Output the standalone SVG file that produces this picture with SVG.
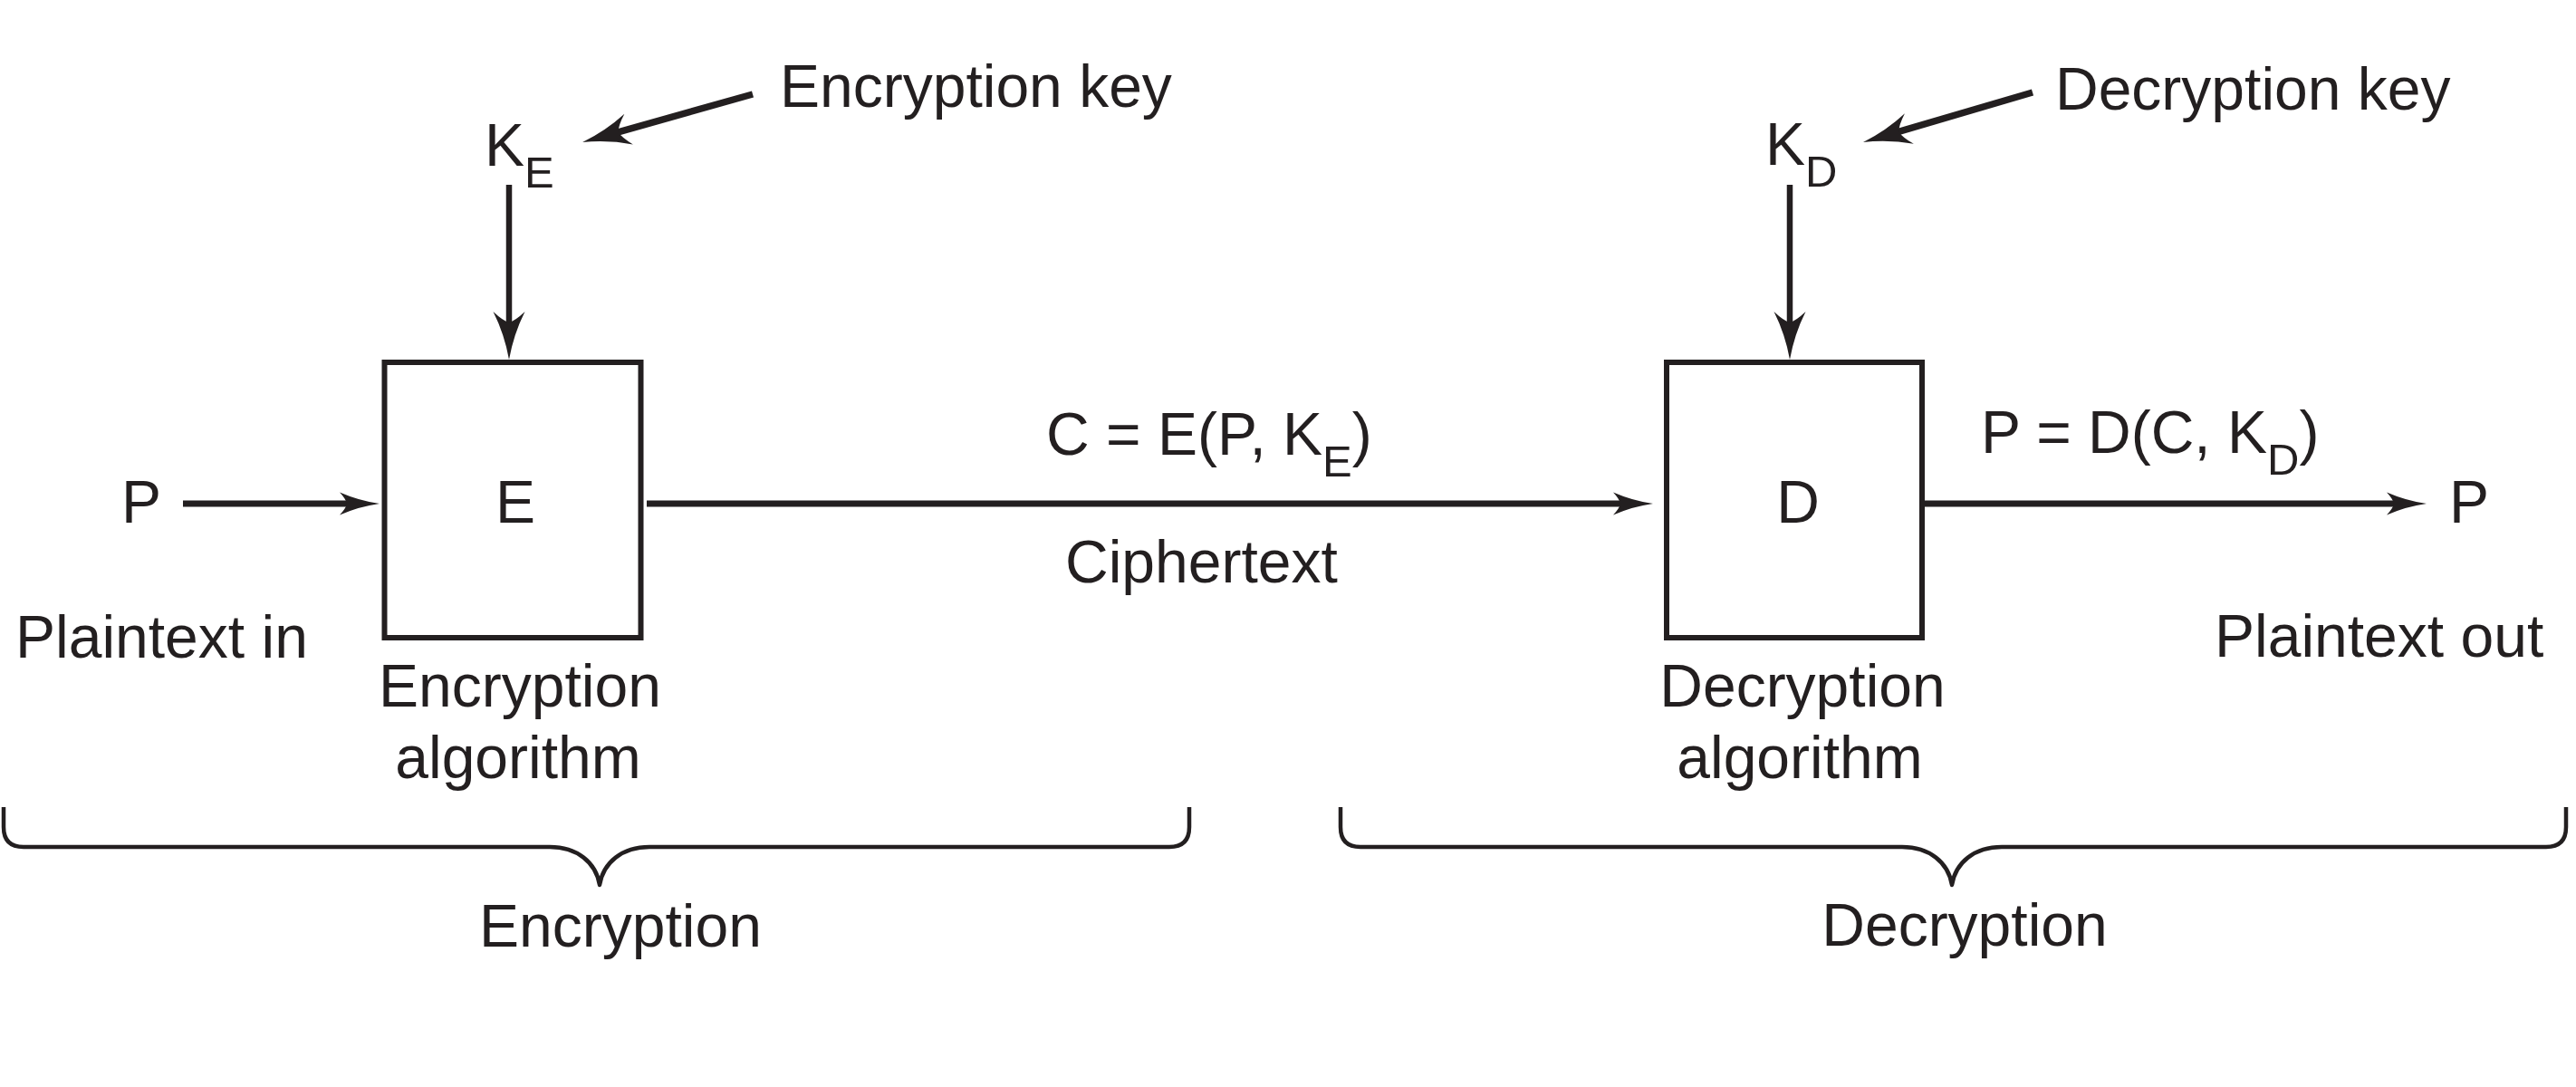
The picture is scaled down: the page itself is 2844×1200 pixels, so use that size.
<svg xmlns="http://www.w3.org/2000/svg" width="2844" height="1200" viewBox="0 0 2844 1200">
<style>
  text { font-family: "Liberation Sans", Arial, Helvetica, sans-serif; font-size: 66px; fill: #231f20; }
  .sub { font-size: 49px; }
  .mid { text-anchor: middle; }
  .box { fill: none; stroke: #231f20; stroke-width: 6; }
  .conn { fill: none; stroke: #231f20; stroke-linecap: butt; }
  .h { stroke-width: 7; }
  .v { stroke-width: 6.5; }
  .d { stroke-width: 7.5; }
  .brace { fill: none; stroke: #231f20; stroke-width: 4.5; stroke-linejoin: round; }
</style>
<defs>
  <marker id="bigHead" markerUnits="userSpaceOnUse" viewBox="-56 -20 100 40" refX="-40" refY="0" markerWidth="100" markerHeight="40" orient="auto" overflow="visible">
    <path d="M0,0 Q-28,-5 -53,-17.5 Q-43,-7 -41,0 Q-43,7 -53,17.5 Q-28,5 0,0 Z" fill="#231f20"/>
  </marker>
  <marker id="smallHead" markerUnits="userSpaceOnUse" viewBox="-46 -14 80 28" refX="-30" refY="0" markerWidth="80" markerHeight="28" orient="auto" overflow="visible">
    <path d="M0,0 Q-22,-3 -44,-12.5 Q-37,-5 -36,0 Q-37,5 -44,12.5 Q-22,3 0,0 Z" fill="#231f20"/>
  </marker>
</defs>
<rect width="2844" height="1200" fill="#ffffff"/>

<g id="connectors">
  <line class="conn h" x1="202" y1="556" x2="389" y2="556" marker-end="url(#smallHead)"/>
  <line class="conn h" x1="714" y1="556" x2="1795" y2="556" marker-end="url(#smallHead)"/>
  <line class="conn h" x1="2125" y1="556" x2="2649" y2="556" marker-end="url(#smallHead)"/>
  <line class="conn v" x1="562" y1="204" x2="562" y2="357" marker-end="url(#bigHead)"/>
  <line class="conn v" x1="1976" y1="204" x2="1976" y2="357" marker-end="url(#bigHead)"/>
  <line class="conn d" x1="831" y1="104" x2="681.6" y2="146.1" marker-end="url(#bigHead)"/>
  <line class="conn d" x1="2244" y1="102" x2="2095.4" y2="145.7" marker-end="url(#bigHead)"/>
</g>

<g id="node-encrypt">
  <rect class="box" x="424.5" y="400" width="283" height="304"/>
  <text class="mid" x="569" y="577">E</text>
  <text class="mid" x="574" y="780">Encryption</text>
  <text class="mid" x="572" y="859">algorithm</text>
</g>

<g id="node-decrypt">
  <rect class="box" x="1840" y="400" width="282" height="304"/>
  <text class="mid" x="1985" y="577">D</text>
  <text class="mid" x="1990" y="780">Decryption</text>
  <text class="mid" x="1987" y="859">algorithm</text>
</g>

<g id="node-key-e">
  <text x="535" y="183">K<tspan class="sub" dy="24">E</tspan></text>
  <text x="861" y="118">Encryption key</text>
</g>

<g id="node-key-d">
  <text x="1949" y="182">K<tspan class="sub" dy="24">D</tspan></text>
  <text x="2269" y="121">Decryption key</text>
</g>

<g id="node-plain-in">
  <text x="134" y="577">P</text>
  <text x="17" y="726">Plaintext in</text>
</g>

<g id="node-cipher">
  <text x="1155" y="502">C = E(P, K<tspan class="sub" dy="24">E</tspan><tspan dy="-24">)</tspan></text>
  <text x="1176" y="643">Ciphertext</text>
</g>

<g id="node-plain-out">
  <text x="2187" y="500">P = D(C, K<tspan class="sub" dy="24">D</tspan><tspan dy="-24">)</tspan></text>
  <text x="2704" y="577">P</text>
  <text x="2445" y="725">Plaintext out</text>
</g>

<g id="node-encryption-brace">
  <path class="brace" d="M4,891 L4,913 Q4,935 26,935 L607,935 C637,935 658,952 662,977 C666,952 687,935 717,935 L1291,935 Q1313,935 1313,913 L1313,891"/>
  <text class="mid" x="685" y="1045">Encryption</text>
</g>

<g id="node-decryption-brace">
  <path class="brace" d="M1480,891 L1480,913 Q1480,935 1502,935 L2100,935 C2130,935 2151,952 2155,977 C2159,952 2180,935 2210,935 L2811,935 Q2833,935 2833,913 L2833,891"/>
  <text class="mid" x="2169" y="1044">Decryption</text>
</g>
</svg>
